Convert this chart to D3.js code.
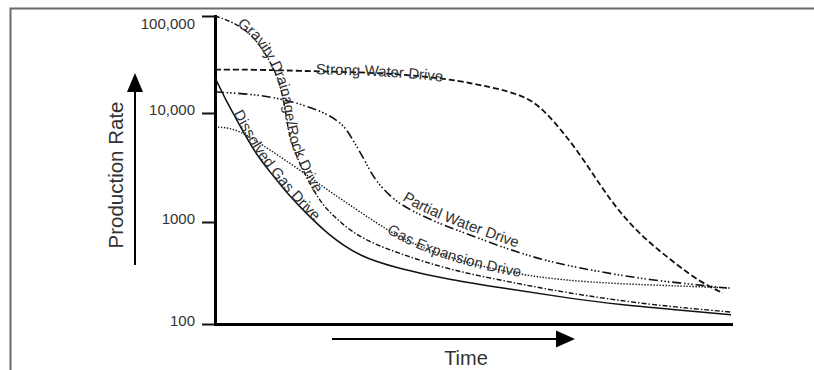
<!DOCTYPE html>
<html>
<head>
<meta charset="utf-8">
<script src="https://cdn.jsdelivr.net/npm/d3@7"></script>
<style>
  html, body { margin: 0; padding: 0; background: #fff; }
  svg { display: block; font-family: "Liberation Sans", Arial, Helvetica, sans-serif; }
</style>
</head>
<body>
<svg id="chart" width="814" height="370"></svg>
<script>
// Production decline by reservoir drive mechanism.
// Time is relative (0 = start of production, 100 = end of plot); rate is on a log scale.

const strongWaterTime = [0, 8.7, 16.5, 26.2, 35.9, 45, 49.4, 53.3, 57.2, 60.5, 63, 65.5, 70.2, 74.6, 78.5, 82.9, 87.6, 92.1, 95.9, 98.4];
const strongWaterRate = [28000, 28000, 27100, 26500, 25200, 22400, 20400, 18500, 16500, 14300, 11500, 8600, 4580, 2190, 1210, 713, 454, 302, 231, 201];

const gravityTime = [0, 3.5, 7.4, 10.7, 12.6, 13.6, 14.3, 15.9, 17.8, 20.3, 22.3, 27.5, 35.3, 45.5, 57.2, 68.2, 84.3, 100];
const gravityRate = [100000, 86800, 63700, 34400, 20400, 11300, 6280, 3870, 2530, 1560, 1210, 713, 497, 338, 258, 201, 154, 131];

const partialWaterTime = [0, 3.5, 8.7, 14, 20.3, 24.8, 26.7, 28.7, 30.4, 32.4, 35.3, 41.7, 49.4, 57.2, 64.9, 74.6, 84.3, 94, 99.2];
const partialWaterRate = [16500, 16100, 15300, 13600, 10700, 8090, 5650, 3950, 2700, 2050, 1490, 1040, 746, 531, 405, 324, 270, 241, 225];

const gasExpansionTime = [0, 3.5, 6.8, 10.1, 16.5, 22.3, 28.1, 33.9, 39.7, 47.5, 57.2, 66.9, 78.5, 90.1, 100];
const gasExpansionRate = [7440, 7280, 6030, 4770, 3000, 1890, 1240, 798, 569, 415, 316, 270, 247, 236, 225];

const dissolvedGasTime = [0, 1, 2.1, 3.5, 5.8, 8.1, 10.7, 13.6, 16.5, 21.7, 28.1, 35.3, 45.5, 57.2, 68.2, 78.5, 90.1, 100];
const dissolvedGasRate = [23000, 18100, 13600, 10000, 6280, 4120, 2870, 1925, 1370, 763, 454, 354, 270, 220, 180, 154, 137, 123];

const driveLabels = ["Strong Water Drive", "Gravity Drainage/Rock Drive", "Partial Water Drive", "Gas Expansion Drive", "Dissolved Gas Drive"];

const rateTickValues = [100, 1000, 10000, 100000];
const rateTickLabels = ["100", "1000", "10,000", "100,000"];

const yTitle = "Production Rate";
const xTitle = "Time";

const svg = d3.select("#chart");

// Outer frame (top and left edges)
svg.append("path")
  .attr("d", "M10.5,370V8.5H814")
  .attr("fill", "none")
  .attr("stroke", "#6b6b6b")
  .attr("stroke-width", 2);

const x = d3.scaleLinear().domain([0, 100]).range([215, 731]);
// hand-spaced decades on the rate axis
const y = d3.scaleLog().domain([100, 1000, 10000, 100000]).range([324, 222, 113, 16]);

// Axes
const yAxis = d3.axisLeft(y)
  .tickValues(rateTickValues)
  .tickFormat((d, i) => rateTickLabels[i])
  .tickSizeInner(13)
  .tickSizeOuter(0)
  .tickPadding(7);

const gy = svg.append("g").attr("transform", `translate(${x(0)},0)`).call(yAxis);
gy.select(".domain").attr("stroke", "#000").attr("stroke-width", 3).attr("stroke-linecap", "square");
gy.selectAll(".tick line").attr("stroke", "#111").attr("stroke-width", 2);
gy.selectAll(".tick text")
  .attr("font-size", 15)
  .attr("font-family", "'Liberation Sans', Arial, Helvetica, sans-serif")
  .attr("fill", "#333")
  .attr("dy", (d) => d === 100000 ? "0.85em" : "0.12em");

const xAxis = d3.axisBottom(x).tickValues([]).tickSizeOuter(0);
const gx = svg.append("g").attr("transform", `translate(0,${y(100)})`).call(xAxis);
gx.select(".domain").attr("stroke", "#000").attr("stroke-width", 3).attr("stroke-linecap", "square");

// Drive curves
const series = [
  { id: "strong", time: strongWaterTime, rate: strongWaterRate, label: driveLabels[0], dash: "6,3", width: 1.8, offset: 101, dy: 3 },
  { id: "gravity", time: gravityTime, rate: gravityRate, label: driveLabels[1], dash: "5,2,1.5,2", width: 1.4, offset: 24, dy: 1 },
  { id: "partial", time: partialWaterTime, rate: partialWaterRate, label: driveLabels[2], dash: "9,3,1.5,2,1.5,2,1.5,3", width: 1.6, offset: 232, dy: -4 },
  { id: "gasexp", time: gasExpansionTime, rate: gasExpansionRate, label: driveLabels[3], dash: "1.4,1.6", width: 1.4, offset: 203, dy: 3 },
  { id: "dissolved", time: dissolvedGasTime, rate: dissolvedGasRate, label: driveLabels[4], dash: null, width: 1.5, offset: 40, dy: 0 }
];

const line = d3.line()
  .x((d) => x(d[0]))
  .y((d) => y(d[1]))
  .curve(d3.curveBasis);

const curves = svg.append("g");
series.forEach((s) => {
  curves.append("path")
    .attr("id", "curve-" + s.id)
    .attr("d", line(d3.zip(s.time, s.rate)))
    .attr("fill", "none")
    .attr("stroke", "#111")
    .attr("stroke-width", s.width)
    .attr("stroke-dasharray", s.dash);
});

// Labels that run along their curves
const labels = svg.append("g")
  .attr("font-size", 15)
  .attr("fill", "#333");
series.forEach((s) => {
  labels.append("text")
    .append("textPath")
    .attr("href", "#curve-" + s.id)
    .attr("startOffset", s.offset)
    .append("tspan")
    .attr("dy", s.dy)
    .text(s.label);
});

// Direction arrows and axis titles
const arrows = svg.append("g").attr("fill", "#000").attr("stroke", "#000");
arrows.append("line").attr("x1", 135).attr("x2", 135).attr("y1", 265).attr("y2", 90).attr("stroke-width", 2);
arrows.append("path").attr("d", "M127,92L135,73L143,92Z").attr("stroke", "none");
arrows.append("line").attr("x1", 332).attr("x2", 558).attr("y1", 339).attr("y2", 339).attr("stroke-width", 2);
arrows.append("path").attr("d", "M556,330.5L575,339L556,347.5Z").attr("stroke", "none");

svg.append("text")
  .attr("transform", "translate(123,175) rotate(-90)")
  .attr("text-anchor", "middle")
  .attr("font-size", 20.5)
  .attr("fill", "#333")
  .text(yTitle);

svg.append("text")
  .attr("x", 466)
  .attr("y", 365)
  .attr("text-anchor", "middle")
  .attr("font-size", 20)
  .attr("fill", "#333")
  .text(xTitle);
</script>
</body>
</html>
